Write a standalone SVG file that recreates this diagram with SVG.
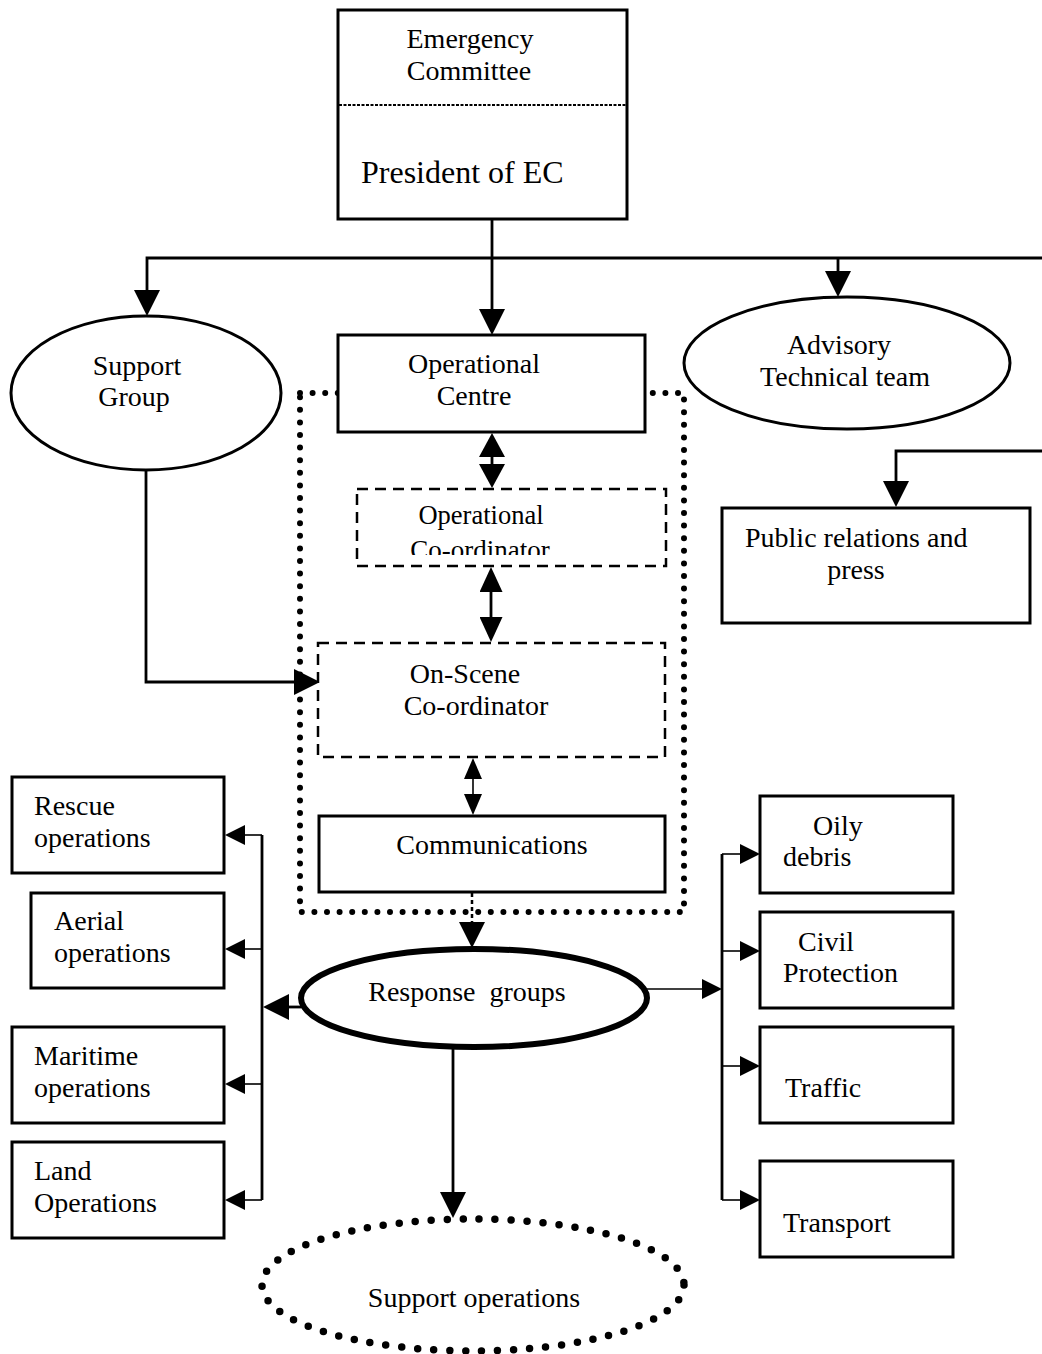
<svg xmlns="http://www.w3.org/2000/svg" width="1042" height="1354" viewBox="0 0 1042 1354">
<style>
text{font-family:"Liberation Serif","Times New Roman",serif;font-size:28px;fill:#000}
.c{text-anchor:middle}
.box{fill:#fff;stroke:#000;stroke-width:3}
.dash{fill:#fff;stroke:#000;stroke-width:2.5;stroke-dasharray:11 7}
.ln{fill:none;stroke:#000;stroke-width:2.8}
.thin{fill:none;stroke:#000;stroke-width:1.6}
</style>
<defs>
<marker id="big" markerUnits="userSpaceOnUse" viewBox="0 0 26 26" markerWidth="26" markerHeight="26" refX="16" refY="13" orient="auto-start-reverse"><path d="M0,0L26,13L0,26z"/></marker>
<marker id="dbl" markerUnits="userSpaceOnUse" viewBox="0 0 24 26" markerWidth="24" markerHeight="26" refX="14" refY="13" orient="auto-start-reverse"><path d="M0,0L24,13L0,26z"/></marker>
<marker id="dbl2" markerUnits="userSpaceOnUse" viewBox="0 0 25 23" markerWidth="25" markerHeight="23" refX="15" refY="11.5" orient="auto-start-reverse"><path d="M0,0L25,11.5L0,23z"/></marker>
<marker id="sm" markerUnits="userSpaceOnUse" viewBox="0 0 21 18" markerWidth="21" markerHeight="18" refX="13" refY="9" orient="auto-start-reverse"><path d="M0,0L21,9L0,18z"/></marker>
<marker id="med" markerUnits="userSpaceOnUse" viewBox="0 0 20 20" markerWidth="20" markerHeight="20" refX="12" refY="10" orient="auto-start-reverse"><path d="M0,0L20,10L0,20z"/></marker>
<clipPath id="opcoClip"><rect x="357" y="489" width="309" height="66"/></clipPath>
</defs>

<g id="control-area">
<rect x="300" y="393" width="384" height="519" fill="none" stroke="#000" stroke-width="6" stroke-linecap="round" stroke-dasharray="0 12.6"/>
</g>

<g id="connectors">
<path class="ln" d="M492,219V325" marker-end="url(#big)"/>
<path class="ln" d="M1042,258H147V306" marker-end="url(#big)"/>
<path class="ln" d="M838,258V287" marker-end="url(#big)"/>
<path class="ln" d="M1042,451H896V497" marker-end="url(#big)"/>
<path class="ln" d="M492,443V478" marker-start="url(#dbl)" marker-end="url(#dbl)"/>
<path class="ln" d="M491,577V632" marker-start="url(#dbl2)" marker-end="url(#dbl2)"/>
<path class="thin" d="M473,766V807" marker-start="url(#sm)" marker-end="url(#sm)"/>
<path class="ln" d="M146,470V682H310" marker-end="url(#big)"/>
<path fill="none" stroke="#000" stroke-width="2.5" stroke-dasharray="4 3" d="M472,893V938" marker-end="url(#big)"/>
<path class="ln" d="M301,1007H273" marker-end="url(#big)"/>
<path class="ln" d="M262,835V1200"/>
<path class="thin" d="M262,835H233" marker-end="url(#med)"/>
<path class="thin" d="M262,949H233" marker-end="url(#med)"/>
<path class="thin" d="M262,1084H233" marker-end="url(#med)"/>
<path class="thin" d="M262,1200H233" marker-end="url(#med)"/>
<path class="thin" d="M646,989H714" marker-end="url(#med)"/>
<path class="ln" d="M722,854V1200"/>
<path class="thin" d="M722,854H752" marker-end="url(#med)"/>
<path class="thin" d="M722,951H752" marker-end="url(#med)"/>
<path class="thin" d="M722,1066H752" marker-end="url(#med)"/>
<path class="thin" d="M722,1200H752" marker-end="url(#med)"/>
<path class="ln" d="M453,1047V1208" marker-end="url(#big)"/>
</g>

<g id="emergency-committee">
<rect class="box" x="338" y="10" width="289" height="209"/>
<line x1="339" y1="105" x2="626" y2="105" stroke="#000" stroke-width="2" stroke-dasharray="3 1.5"/>
<text class="c" x="470" y="48">Emergency</text>
<text class="c" x="469" y="80">Committee</text>
<text x="361" y="183" style="font-size:32px">President of EC</text>
</g>

<g id="support-group">
<ellipse cx="146" cy="393" rx="135" ry="77" fill="#fff" stroke="#000" stroke-width="3"/>
<text class="c" x="137" y="375">Support</text>
<text class="c" x="134" y="406">Group</text>
</g>

<g id="operational-centre">
<rect class="box" x="338" y="335" width="307" height="97"/>
<text class="c" x="474" y="373">Operational</text>
<text class="c" x="474" y="405">Centre</text>
</g>

<g id="advisory-technical-team">
<ellipse cx="847" cy="363" rx="163" ry="66" fill="#fff" stroke="#000" stroke-width="3"/>
<text class="c" x="839" y="354">Advisory</text>
<text class="c" x="845" y="386">Technical team</text>
</g>

<g id="operational-coordinator">
<rect class="dash" x="357" y="489" width="309" height="77"/>
<g clip-path="url(#opcoClip)">
<text class="c" x="481" y="524" style="font-size:26.5px">Operational</text>
<text class="c" x="480" y="559" style="font-size:27px">Co-ordinator</text>
</g>
</g>

<g id="public-relations">
<rect class="box" x="722" y="508" width="308" height="115"/>
<text x="745" y="547">Public relations and</text>
<text class="c" x="856" y="579">press</text>
</g>

<g id="on-scene-coordinator">
<rect class="dash" x="318" y="643" width="347" height="114"/>
<text class="c" x="465" y="683">On-Scene</text>
<text class="c" x="476" y="715">Co-ordinator</text>
</g>

<g id="communications">
<rect class="box" x="319" y="816" width="346" height="76"/>
<text class="c" x="492" y="854">Communications</text>
</g>

<g id="response-groups">
<ellipse cx="474" cy="998" rx="173" ry="49" fill="#fff" stroke="#000" stroke-width="6"/>
<text class="c" x="467" y="1001" word-spacing="7">Response groups</text>
</g>

<g id="support-operations">
<ellipse cx="473" cy="1285" rx="211" ry="66" fill="none" stroke="#000" stroke-width="7.5" stroke-linecap="round" stroke-dasharray="0 16"/>
<text class="c" x="474" y="1307">Support operations</text>
</g>

<g id="rescue-operations">
<rect class="box" x="12" y="777" width="212" height="96"/>
<text x="34" y="815">Rescue</text>
<text x="34" y="847">operations</text>
</g>
<g id="aerial-operations">
<rect class="box" x="31" y="893" width="193" height="95"/>
<text x="54" y="930">Aerial</text>
<text x="54" y="962">operations</text>
</g>
<g id="maritime-operations">
<rect class="box" x="12" y="1027" width="212" height="96"/>
<text x="34" y="1065">Maritime</text>
<text x="34" y="1097">operations</text>
</g>
<g id="land-operations">
<rect class="box" x="12" y="1142" width="212" height="96"/>
<text x="34" y="1180">Land</text>
<text x="34" y="1212">Operations</text>
</g>

<g id="oily-debris">
<rect class="box" x="760" y="796" width="193" height="97"/>
<text x="813" y="835">Oily</text>
<text x="783" y="866">debris</text>
</g>
<g id="civil-protection">
<rect class="box" x="760" y="912" width="193" height="96"/>
<text x="798" y="951">Civil</text>
<text x="783" y="982">Protection</text>
</g>
<g id="traffic">
<rect class="box" x="760" y="1027" width="193" height="96"/>
<text x="785" y="1097">Traffic</text>
</g>
<g id="transport">
<rect class="box" x="760" y="1161" width="193" height="96"/>
<text x="783" y="1232">Transport</text>
</g>
</svg>
